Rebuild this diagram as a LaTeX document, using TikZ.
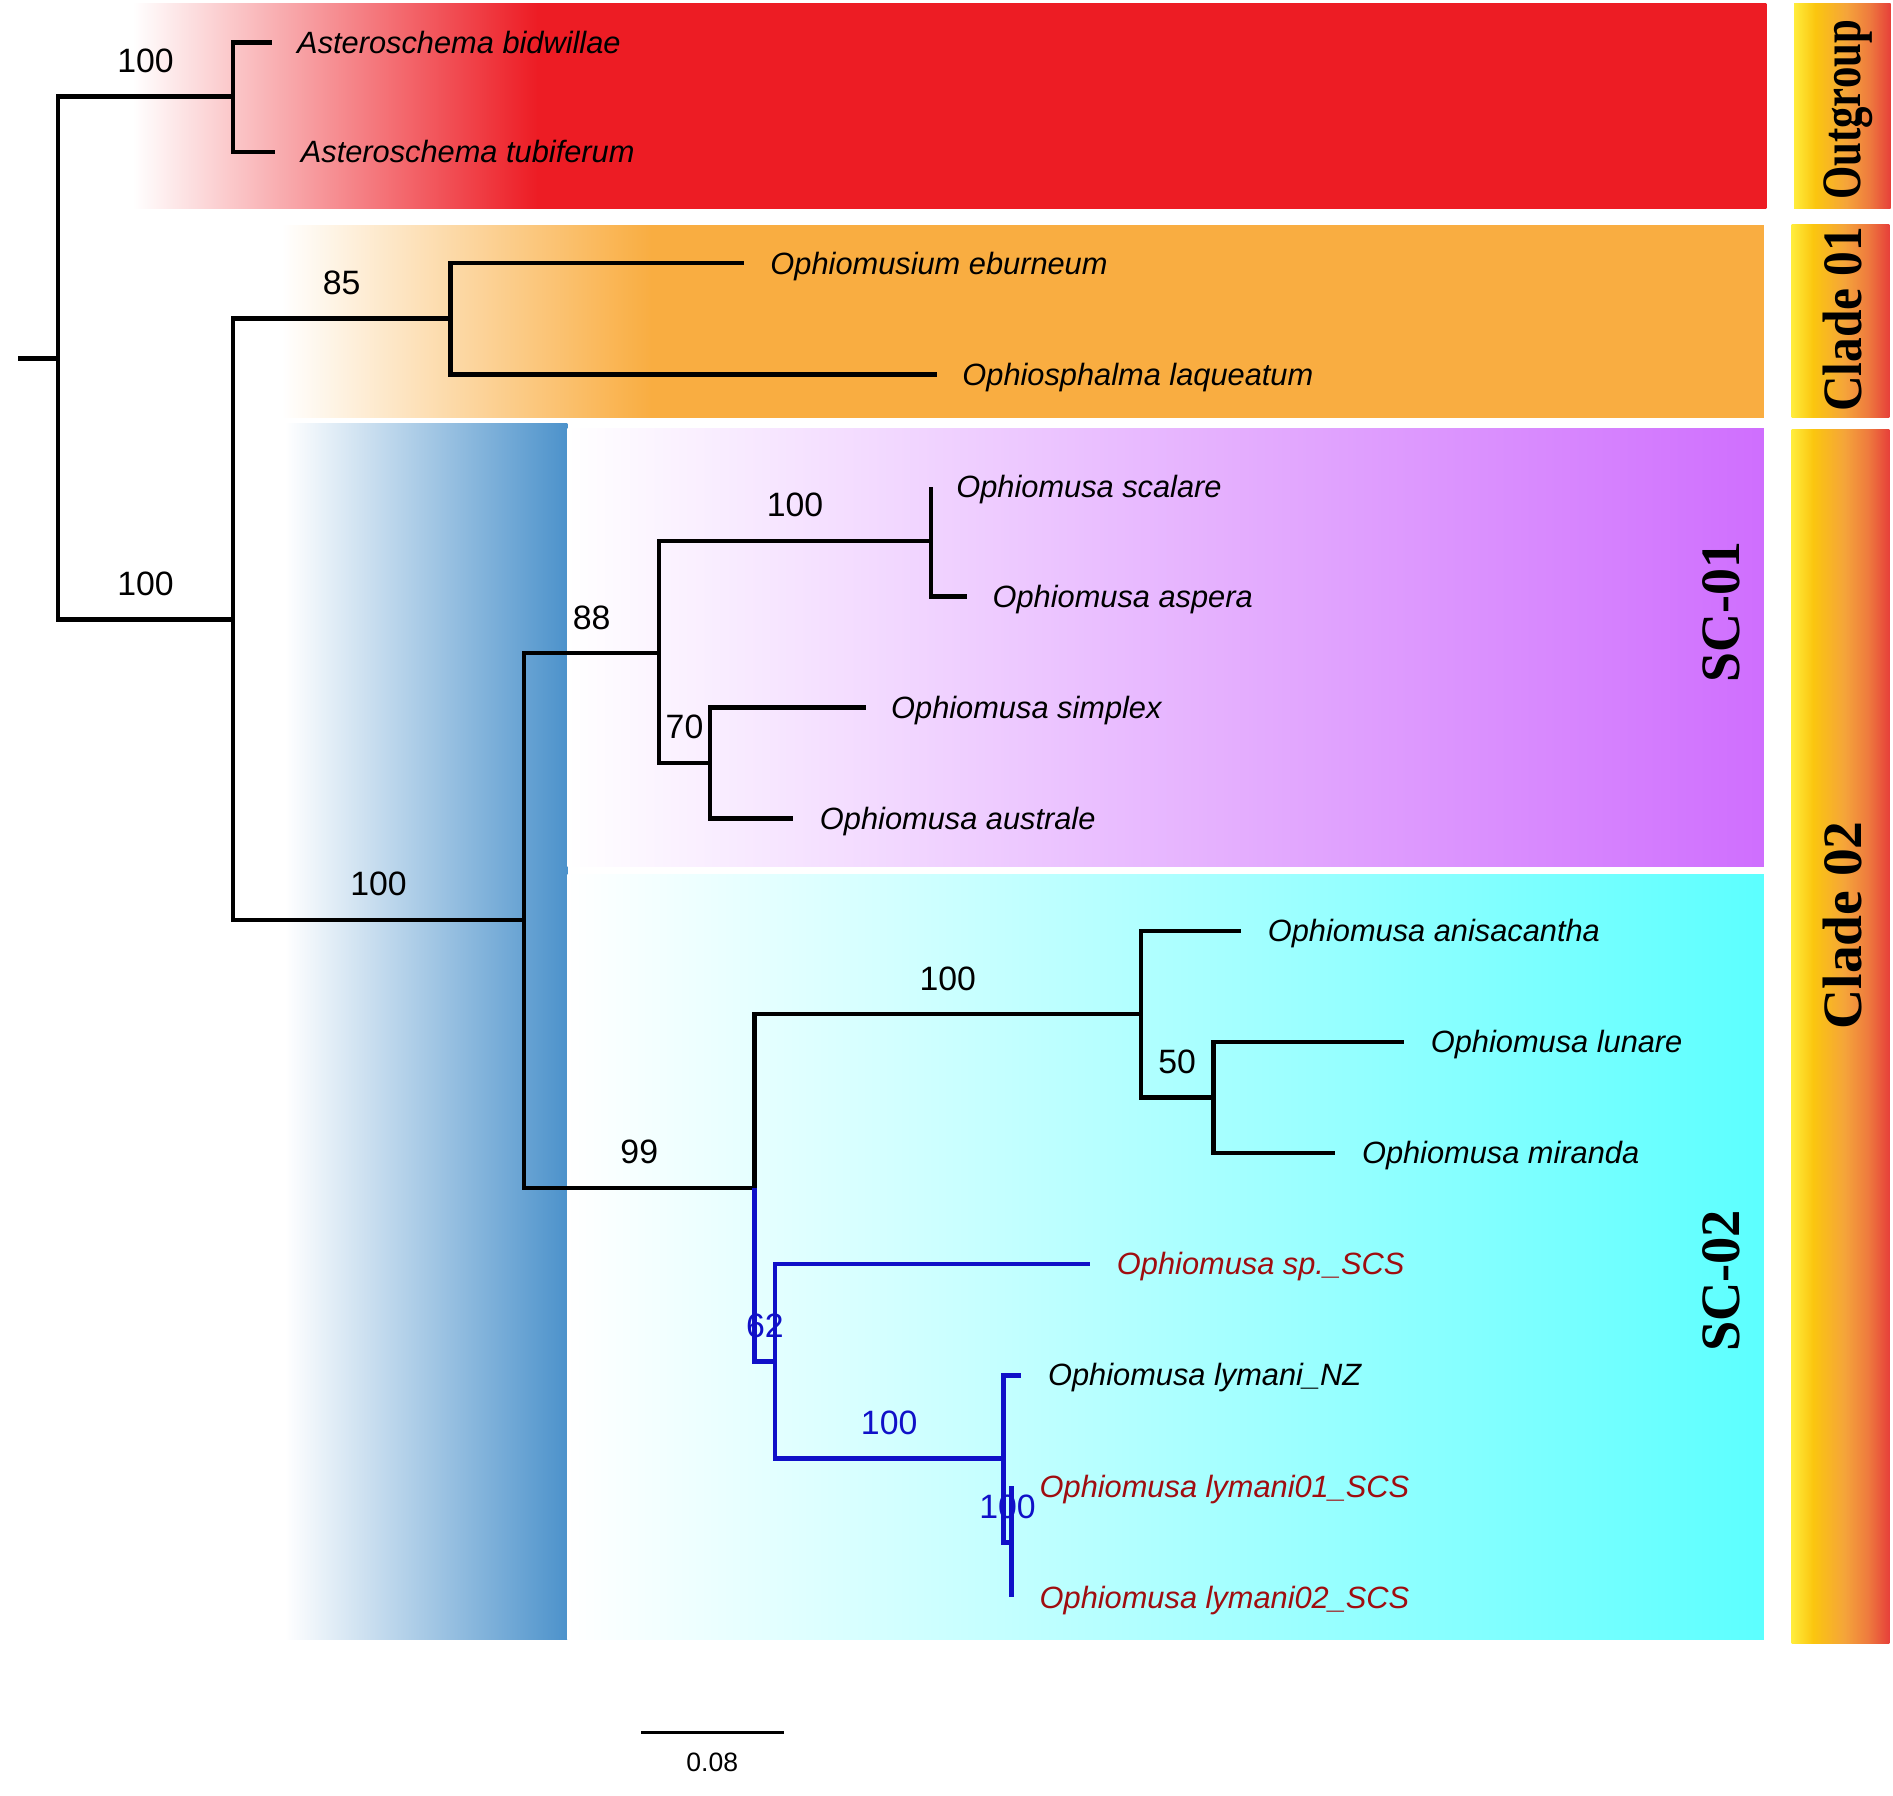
\documentclass[tikz,border=0pt]{standalone}
\usepackage{fontspec}
\setmainfont{Liberation Sans}
\newfontfamily\cladeserif{Liberation Serif}
\usepackage{graphicx}
\usetikzlibrary{positioning}
\definecolor{outred}{HTML}{ED1C24}
\definecolor{cladeorange}{HTML}{F9AD41}
\definecolor{stemblue}{HTML}{4C92CB}
\definecolor{scviolet}{HTML}{CF6EFE}
\definecolor{sccyan}{HTML}{5CFFFF}
\definecolor{scsblue}{HTML}{1010C8}
\definecolor{scsred}{HTML}{A00D10}
\definecolor{barA}{HTML}{FFEC3C}
\definecolor{barB}{HTML}{FBC60F}
\definecolor{barC}{HTML}{F5A43A}
\definecolor{barD}{HTML}{EE7B3E}
\definecolor{barE}{HTML}{E6403A}
\pgfdeclarehorizontalshading{outfade}{100bp}{color(0bp)=(white); color(25bp)=(white); color(37.4bp)=(outred); color(100bp)=(outred)}
\pgfdeclarehorizontalshading{cladefade}{100bp}{color(0bp)=(white); color(25bp)=(white); color(37.5bp)=(cladeorange); color(100bp)=(cladeorange)}
\pgfdeclarehorizontalshading{cladebar}{100bp}{color(0bp)=(barA); color(25bp)=(barA); color(36bp)=(barB); color(52bp)=(barC); color(64bp)=(barD); color(75bp)=(barE); color(100bp)=(barE)}

\begin{document}
\begin{tikzpicture}[
      x=1pt, y=-1pt,
      branch/.style={line width=3.8pt},
      scsbranch/.style={line width=4pt, draw=scsblue},
      boot/.style={pos=.75, above=18pt, inner sep=0pt, text depth=0pt, font=\fontsize{28}{30}\selectfont},
      taxon/.style={inner sep=0pt, text height=18pt, text depth=0pt, font=\fontsize{25.5}{30}\selectfont\itshape},
      cladelabel/.style={rotate=90, anchor=base, inner sep=0pt, font=\cladeserif\bfseries\fontsize{46}{50}\selectfont}
    ]
      \useasboundingbox (0,0) rectangle (1568,1487);

      \shade[shading=outfade] (110,3) rectangle (1463,173);
      \shade[shading=cladefade] (233,187) rectangle (1461,346);
      \shade[left color=white, right color=stemblue] (236,351) rectangle (470,1358);
      \shade[left color=white, right color=scviolet] (470,355) rectangle (1461,718);
      \shade[left color=white, right color=sccyan] (470,724) rectangle (1461,1358);
      \shade[shading=cladebar] (1486,3) rectangle (1566,173);
      \shade[shading=cladebar] (1484,186) rectangle (1565,346);
      \shade[shading=cladebar] (1484,356) rectangle (1565,1361);

      \node[cladelabel] (outgroup) at (1541,91) {\scalebox{0.77}[1]{Outgroup}};
      \node[cladelabel] (clade01) at (1542,264.5) {\scalebox{0.89}[1]{Clade 01}};
      \node[cladelabel] (clade02) at (1542,766.5) {Clade 02};
      \node[cladelabel] (sc01lab) at (1441,507) {\scalebox{0.97}[1]{SC-01}};
      \node[cladelabel] (sc02lab) at (1441,1061) {\scalebox{0.98}[1]{SC-02}};

      \coordinate (stub) at (15,297);
      \coordinate (r0) at (48,297);
      \coordinate (og) at (193,80);
      \coordinate (ing) at (193,513);
      \coordinate (c01) at (373,264);
      \coordinate (c02) at (434,762);
      \coordinate (sc01) at (546,541);
      \coordinate (nsa) at (771,448);
      \coordinate (nsi) at (588,632);
      \coordinate (sc02) at (625,984);
      \coordinate (nan) at (945,840);
      \coordinate (nlm) at (1005,909);
      \coordinate (nbl) at (642,1128);
      \coordinate (nly) at (831,1208);
      \coordinate (nly2) at (838,1278);

      \coordinate (bid) at (225,35);
      \coordinate (tub) at (228,126);
      \coordinate (ebu) at (616,218);
      \coordinate (laq) at (776,310);
      \coordinate (sca) at (771,403);
      \coordinate (asp) at (801,494);
      \coordinate (sim) at (717,586);
      \coordinate (aus) at (657,678);
      \coordinate (ani) at (1028,771);
      \coordinate (lun) at (1163,863);
      \coordinate (mir) at (1106,955);
      \coordinate (ssp) at (903,1047);
      \coordinate (nz) at (846,1139);
      \coordinate (ly1) at (838,1231);
      \coordinate (ly2) at (838,1323);

      \draw[branch] (stub) -- (r0);
      \draw[branch] (r0) |- node[boot] {100} (og);
      \draw[branch] (r0) |- node[boot] {100} (ing);
      \draw[branch] (og) |- (bid);
      \draw[branch] (og) |- (tub);
      \draw[branch] (ing) |- node[boot] {85} (c01);
      \draw[branch] (ing) |- node[boot] {100} (c02);
      \draw[branch] (c01) |- (ebu);
      \draw[branch] (c01) |- (laq);
      \draw[branch] (c02) |- node[boot] {88} (sc01);
      \draw[branch] (c02) |- node[boot] {99} (sc02);
      \draw[branch] (sc01) |- node[boot] {100} (nsa);
      \draw[branch] (sc01) |- node[boot] {70} (nsi);
      \draw[branch] (nsa) -- (sca);
      \draw[branch] (nsa) |- (asp);
      \draw[branch] (nsi) |- (sim);
      \draw[branch] (nsi) |- (aus);
      \draw[branch] (sc02) |- node[boot] {100} (nan);
      \draw[branch] (nan) |- (ani);
      \draw[branch] (nan) |- node[boot] {50} (nlm);
      \draw[branch] (nlm) |- (lun);
      \draw[branch] (nlm) |- (mir);
      \draw[scsbranch] (sc02) |- node[boot, text=scsblue] {62} (nbl);
      \draw[scsbranch] (nbl) |- (ssp);
      \draw[scsbranch] (nbl) |- node[boot, text=scsblue] {100} (nly);
      \draw[scsbranch] (nly) |- (nz);
      \draw[scsbranch] (nly) |- node[boot, text=scsblue] {100} (nly2);
      \draw[scsbranch] (nly2) -- (ly1);
      \draw[scsbranch] (nly2) -- (ly2);

      \node[taxon, right=21pt of bid] (lbid) {Asteroschema bidwillae};
      \node[taxon, right=21pt of tub] (ltub) {Asteroschema tubiferum};
      \node[taxon, right=22pt of ebu] (lebu) {Ophiomusium eburneum};
      \node[taxon, right=21pt of laq] (llaq) {Ophiosphalma laqueatum};
      \node[taxon, right=21pt of sca] (lsca) {Ophiomusa scalare};
      \node[taxon, right=21pt of asp] (lasp) {Ophiomusa aspera};
      \node[taxon, right=21pt of sim] (lsim) {Ophiomusa simplex};
      \node[taxon, right=22pt of aus] (laus) {Ophiomusa australe};
      \node[taxon, right=22pt of ani] (lani) {Ophiomusa anisacantha};
      \node[taxon, right=22pt of lun] (llun) {Ophiomusa lunare};
      \node[taxon, right=22pt of mir] (lmir) {Ophiomusa miranda};
      \node[taxon, right=22pt of ssp, text=scsred] (lssp) {Ophiomusa sp.\_SCS};
      \node[taxon, right=22pt of nz] (lnz) {Ophiomusa lymani\_NZ};
      \node[taxon, right=23pt of ly1, text=scsred] (lly1) {Ophiomusa lymani01\_SCS};
      \node[taxon, right=23pt of ly2, text=scsred] (lly2) {Ophiomusa lymani02\_SCS};

      \coordinate (sbl) at (531,1435);
      \coordinate (sbr) at (649,1435);
      \draw[line width=1.8pt] (sbl) -- node[below=16pt, inner sep=0pt, font=\fontsize{22}{24}\selectfont] (sblab) {0.08} (sbr);
    \end{tikzpicture}
\end{document}
